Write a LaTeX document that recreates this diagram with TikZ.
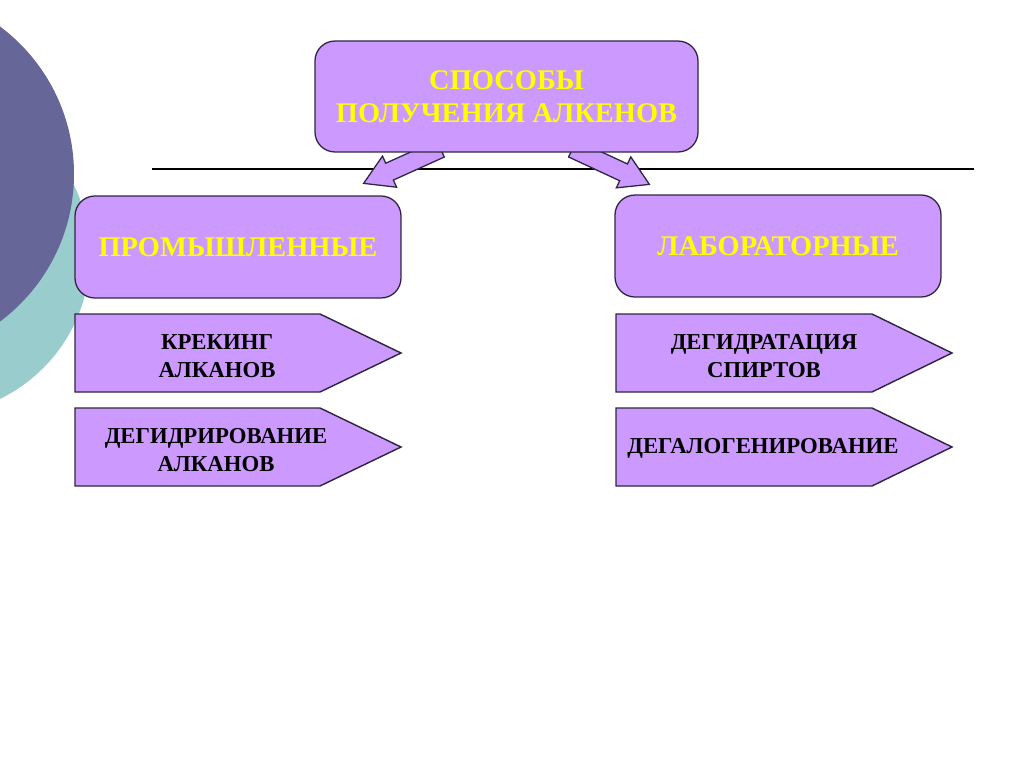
\documentclass[tikz,border=0pt]{standalone}
\usepackage{fontspec}
\setmainfont{Liberation Serif}
\usetikzlibrary{calc,backgrounds}

\definecolor{lilac}{HTML}{CC99FF}
\definecolor{signyellow}{HTML}{FFFF00}
\definecolor{slate}{HTML}{666699}
\definecolor{seafoam}{HTML}{99CCCC}
\definecolor{edge}{HTML}{2E2640}

% fat outlined arrow from #1 to #2
\newcommand{\blockarrow}[2]{%
  \coordinate (hb) at ($(#2)!20pt!(#1)$);
  \filldraw[barrow] ($(#1)!6.5pt!90:(#2)$) -- ($(hb)!6.5pt!90:(#2)$) -- ($(hb)!12pt!90:(#2)$)
    -- (#2) -- ($(hb)!12pt!-90:(#2)$) -- ($(hb)!6.5pt!-90:(#2)$) -- ($(#1)!6.5pt!-90:(#2)$) -- cycle;}

\begin{document}
\begin{tikzpicture}[x=0.703125pt,y=-0.703125pt,
    box/.style={draw=edge,line width=0.9pt,fill=lilac,rounded corners=14pt,
      text=signyellow,align=center,font=\bfseries\fontsize{20}{23}\selectfont},
    pent/.style={draw=edge,line width=1pt,fill=lilac},
    sub/.style={align=center,font=\bfseries\fontsize{16}{19.7}\selectfont},
    barrow/.style={draw=edge,line width=0.9pt,fill=lilac,line join=miter}]
    \useasboundingbox (0,0) rectangle (1024,767);

    % boxes
    \node[box,minimum width=269.3pt,minimum height=78pt] (top) at (506.5,96.5) {СПОСОБЫ\\ПОЛУЧЕНИЯ АЛКЕНОВ};
    \node[box,minimum width=229.2pt,minimum height=71.7pt] (ind) at (238,247) {ПРОМЫШЛЕННЫЕ};
    \node[box,minimum width=229.2pt,minimum height=71.7pt] (lab) at (778,246) {ЛАБОРАТОРНЫЕ};

    % arrow shaped boxes
    \draw[pent] (75,314) -- (320,314) -- (401,353) -- (320,392) -- (75,392) -- cycle;
    \draw[pent] (75,408) -- (320,408) -- (401,447) -- (320,486) -- (75,486) -- cycle;
    \draw[pent] (616,314) -- (872,314) -- (952,353) -- (872,392) -- (616,392) -- cycle;
    \draw[pent] (616,408) -- (872,408) -- (952,447) -- (872,486) -- (616,486) -- cycle;

    \node[sub] (crack) at (217,356) {КРЕКИНГ\\АЛКАНОВ};
    \node[sub] (dehydr) at (216,450) {ДЕГИДРИРОВАНИЕ\\АЛКАНОВ};
    \node[sub] (dehyd) at (764,356) {ДЕГИДРАТАЦИЯ\\СПИРТОВ};
    \node[sub] (dehal) at (763,448) {ДЕГАЛОГЕНИРОВАНИЕ};

    \begin{scope}[on background layer]
        \clip (0,0) rectangle (1024,767);
        \fill[seafoam] (-70,255) circle (160);
        \fill[slate] (-110,174) circle (184);
        \draw[line width=1pt] (152,169) -- (974,169);

        \coordinate (ls) at ($(top.south)+(-66,-4)$);
        \coordinate (lt) at ($(ind.north east)+(-38,-12)$);
        \coordinate (rs) at ($(top.south)+(66,-4)$);
        \coordinate (rt) at ($(lab.north west)+(35,-10)$);
        \blockarrow{ls}{lt}
        \blockarrow{rs}{rt}
    \end{scope}
\end{tikzpicture}
\end{document}
